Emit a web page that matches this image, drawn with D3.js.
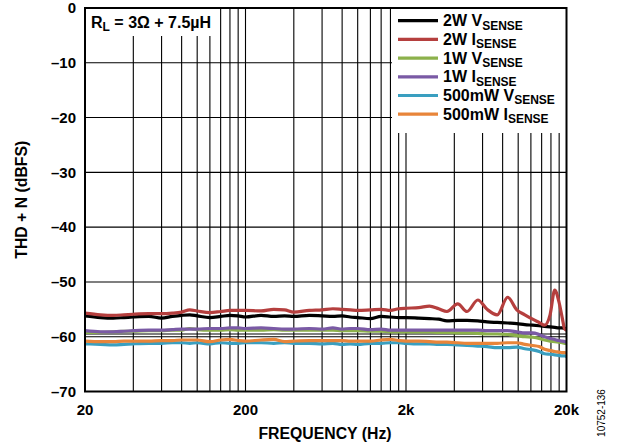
<!DOCTYPE html>
<head>
<meta charset="utf-8">
<script src="https://cdn.jsdelivr.net/npm/d3@7"></script>
<style>
body { margin: 0; background: #fff; }
svg { display: block; font-family: "Liberation Sans", Arial, sans-serif; }
.tick { font-size: 15px; font-weight: bold; fill: #000; }
.axisTitle { font-size: 15.8px; font-weight: bold; fill: #000; }
.leg { font-size: 16px; font-weight: bold; fill: #000; }
</style>
</head>
<body>
<svg width="618" height="448"></svg>
<script>
// frequency points (Hz) shared by every trace
var freqs = [20, 25, 30, 35, 40, 50, 60, 70, 80, 90, 100, 120, 140, 160, 180, 200, 250, 300, 350, 400,
  500, 600, 700, 800, 900, 1000, 1200, 1400, 1600, 1800, 2000, 2400, 2800, 3200, 3600, 4200, 4800,
  5600, 6400, 7400, 8600, 9800, 11000, 12300, 13500, 14600, 15800, 16900, 17900, 18800, 19500, 20000];

var v2W = [-56.2, -56.5, -56.6, -56.5, -56.4, -56.3, -56.6, -56.3, -56.1, -56.0, -56.2, -56.5, -56.3, -56.1, -56.2, -56.4,
  -56.1, -56.3, -56.2, -56.3, -56.1, -56.2, -56.3, -56.2, -56.4, -56.5, -56.7, -56.3, -56.4, -56.5, -56.5, -56.6, -56.7,
  -56.8, -57.1, -57.0, -57.0, -57.1, -57.3, -57.4, -57.5, -57.6, -57.8, -57.9, -58.0, -58.1, -58.2, -58.3, -58.4, -58.4, -58.5, -58.5];
var i2W = [-55.7, -56.0, -56.1, -56.0, -55.9, -55.8, -55.8, -55.7, -55.5, -55.1, -55.3, -55.6, -55.4, -55.2, -55.2, -55.2,
  -55.3, -55.0, -55.1, -55.5, -55.2, -55.1, -54.9, -55.0, -55.1, -55.2, -55.1, -55.0, -55.2, -54.9, -54.8, -54.7, -54.4,
  -54.9, -55.4, -54.0, -55.4, -53.3, -55.0, -56.0, -52.8, -55.1, -56.0, -56.8, -57.4, -57.9, -56.0, -51.5, -53.5, -56.5, -58.6, -58.8];
var v1W = [-59.2, -59.2, -59.1, -59.0, -59.0, -58.9, -58.9, -58.8, -58.8, -58.5, -58.7, -58.8, -58.8, -58.7, -58.8, -58.8,
  -58.8, -58.7, -58.8, -58.8, -58.8, -58.8, -58.8, -58.9, -58.9, -58.9, -59.0, -59.0, -59.1, -59.1, -59.1, -59.1, -59.1,
  -59.2, -59.2, -59.3, -59.3, -59.4, -59.5, -59.5, -59.6, -59.8, -60.0, -60.1, -60.3, -60.6, -60.8, -60.9, -61.0, -61.1, -61.2, -61.2];
var i1W = [-58.9, -59.1, -59.1, -59.0, -58.9, -58.8, -58.8, -58.7, -58.6, -58.6, -58.6, -58.5, -58.5, -58.4, -58.4, -58.5,
  -58.4, -58.5, -58.6, -58.6, -58.5, -58.6, -58.4, -58.6, -58.5, -58.5, -58.7, -58.6, -58.8, -58.8, -58.8, -58.8, -58.8,
  -58.8, -58.8, -58.8, -58.8, -58.8, -58.9, -58.9, -58.9, -59.1, -59.3, -59.3, -59.6, -60.0, -60.3, -60.5, -60.7, -60.8, -60.9, -61.0];
var v500 = [-61.3, -61.4, -61.5, -61.4, -61.3, -61.2, -61.2, -61.1, -61.1, -61.2, -61.1, -61.3, -61.1, -61.2, -61.2, -61.1,
  -61.1, -61.2, -61.1, -61.2, -61.2, -61.3, -61.2, -61.4, -61.3, -61.4, -61.2, -61.2, -61.1, -61.1, -61.2, -61.3, -61.3,
  -61.4, -61.4, -61.5, -61.6, -61.7, -61.8, -62.0, -62.0, -61.9, -62.2, -62.4, -62.7, -63.1, -63.2, -63.3, -63.4, -63.5, -63.5, -63.6];
var i500 = [-60.8, -60.9, -60.9, -60.8, -60.8, -60.8, -60.7, -60.7, -60.6, -60.6, -60.6, -60.9, -60.6, -60.5, -60.7, -60.8,
  -60.6, -60.5, -60.9, -60.8, -60.7, -60.7, -60.7, -60.7, -60.8, -60.8, -60.8, -60.6, -60.5, -60.7, -60.8, -60.8, -60.9,
  -61.0, -61.0, -61.1, -61.2, -61.2, -61.2, -61.2, -61.1, -61.1, -61.4, -61.6, -61.8, -62.3, -62.5, -62.7, -62.8, -62.9, -62.9, -63.0];

var seriesNames = ["2W V", "2W I", "1W V", "1W I", "500mW V", "500mW I"];
var seriesColors = ["#000000", "#b53f3e", "#8cb14b", "#7a5aa5", "#3a9fc0", "#e8853a"];
var seriesData = [v2W, i2W, v1W, i1W, v500, i500];
var drawOrder = [4, 5, 2, 3, 0, 1];

var xTicks = [20, 200, 2000, 20000];
var xTickLabels = ["20", "200", "2k", "20k"];
var yTicks = [0, -10, -20, -30, -40, -50, -60, -70];
var refLines = [-59.5];

var svg = d3.select("svg");
var pL = 85, pR = 566.5, pT = 8, pB = 391.5;

var x = d3.scaleLog().domain([20, 20000]).range([pL, pR]);
var y = d3.scaleLinear().domain([0, -70]).range([pT, pB]);

// grid: 20, 40, 60 ... per decade
var gridF = [];
xTicks.slice(0, 3).forEach(function(d) {
  for (var k = 1; k < 10; k++) gridF.push(d * k);
});
var g = svg.append("g");
g.selectAll("line.v").data(gridF.slice(1)).enter().append("line")
  .attr("x1", function(d) { return x(d); }).attr("x2", function(d) { return x(d); })
  .attr("y1", pT).attr("y2", pB)
  .attr("stroke", "#000").attr("stroke-width", 1.1);
g.selectAll("line.h").data(yTicks.slice(1, 7).concat(refLines)).enter().append("line")
  .attr("x1", pL).attr("x2", pR)
  .attr("y1", function(d) { return y(d); }).attr("y2", function(d) { return y(d); })
  .attr("stroke", "#000").attr("stroke-width", 1.1);

// white panels behind the note and the legend
svg.append("rect").attr("x", pL).attr("y", pT).attr("width", x(130) - pL).attr("height", 28).attr("fill", "#fff");
svg.append("rect").attr("x", 392).attr("y", pT).attr("width", pR - 392).attr("height", 125).attr("fill", "#fff");

var line = d3.line()
  .x(function(d, i) { return x(freqs[i]); })
  .y(function(d) { return y(d); })
  .curve(d3.curveMonotoneX);

drawOrder.forEach(function(s) {
  svg.append("path").datum(seriesData[s])
    .attr("d", line)
    .attr("fill", "none")
    .attr("stroke", seriesColors[s])
    .attr("stroke-width", 3.2)
    .attr("stroke-linejoin", "round");
});

// frame
svg.append("rect").attr("x", pL).attr("y", pT).attr("width", pR - pL).attr("height", pB - pT)
  .attr("fill", "none").attr("stroke", "#000").attr("stroke-width", 2);

// ticks
svg.selectAll("text.yt").data(yTicks).enter().append("text")
  .attr("class", "tick")
  .attr("x", pL - 9).attr("y", function(d) { return y(d); })
  .attr("dy", "0.35em").attr("text-anchor", "end")
  .text(function(d) { return d === 0 ? "0" : "\u2013" + Math.abs(d); });
svg.selectAll("text.xt").data(xTicks).enter().append("text")
  .attr("class", "tick")
  .attr("x", function(d) { return x(d); }).attr("y", 415)
  .attr("text-anchor", "middle")
  .text(function(d, i) { return xTickLabels[i]; });

svg.append("text").attr("class", "axisTitle")
  .attr("x", 325).attr("y", 439).attr("text-anchor", "middle")
  .text("FREQUENCY (Hz)");
svg.append("text").attr("class", "axisTitle")
  .attr("transform", "translate(27," + (pT + pB) / 2 + ") rotate(-90)")
  .attr("text-anchor", "middle")
  .text("THD + N (dBFS)");
svg.append("text")
  .attr("transform", "translate(605,413) rotate(-90)")
  .attr("text-anchor", "middle")
  .style("font-size", "10px")
  .text("10752-136");

// note
var note = svg.append("text").attr("class", "leg").attr("x", 91).attr("y", 27.5);
note.append("tspan").text("R");
note.append("tspan").attr("dy", 3.3).style("font-size", "12px").text("L");
note.append("tspan").attr("dy", -3.3).text(" = 3\u03A9 + 7.5\u00B5H");

// legend
seriesNames.forEach(function(name, i) {
  var ly = 20.7 + i * 18.7;
  svg.append("line").attr("x1", 398).attr("x2", 438).attr("y1", ly).attr("y2", ly)
    .attr("stroke", seriesColors[i]).attr("stroke-width", 3.2);
  var t = svg.append("text").attr("class", "leg").attr("x", 443).attr("y", ly + 5.5);
  t.append("tspan").text(name);
  t.append("tspan").attr("dy", 3.3).style("font-size", "12px").text("SENSE");
});
</script>
</body>
